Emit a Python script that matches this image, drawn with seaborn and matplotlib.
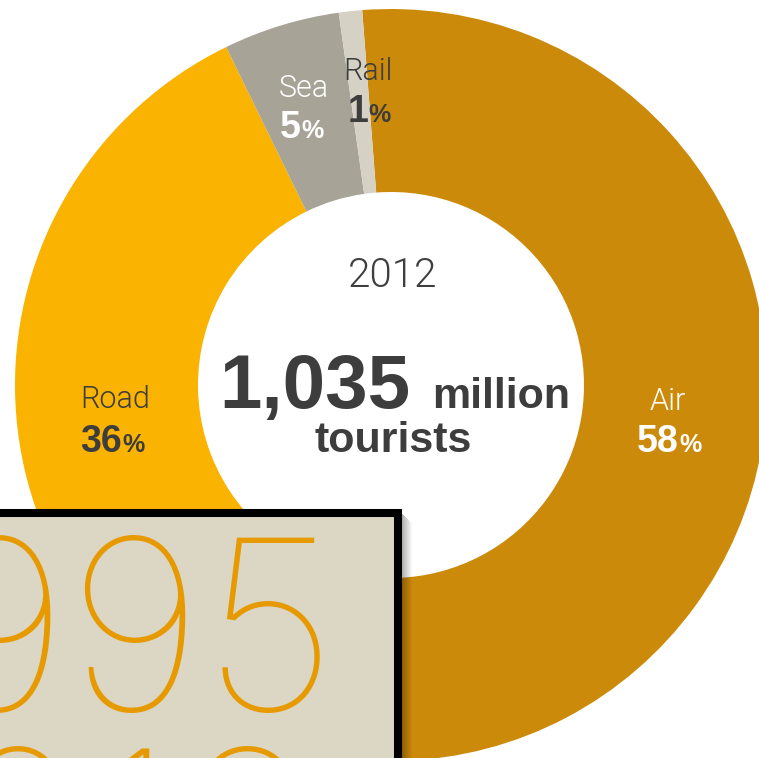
import matplotlib
matplotlib.use("Agg")
import matplotlib.pyplot as plt
from matplotlib import font_manager as fm
from matplotlib.patches import Rectangle
import seaborn as sns

# Share of international tourist arrivals by mode of transport
modes = ["Air", "Road", "Sea", "Rail"]
shares = [58, 36, 5, 1]
mode_colors = ["#CC8A0A", "#F9B300", "#A7A397", "#D5D1C4"]
year = "2012"
total = "1,035"
unit_top = "million"
unit_bottom = "tourists"
year_switch = ["1995", "2012"]

W, H = 759, 758
sns.set_theme(style="white")
plt.rcParams["font.family"] = ["Liberation Sans", "DejaVu Sans"]


def weight_of(entry):
    w = entry.weight
    if isinstance(w, str):
        w = fm.weight_dict.get(w, 400)
    return int(w)


def font_near(families, target):
    """Upright face from the first family that has one, closest to a weight."""
    best = None
    for f in fm.fontManager.ttflist:
        if f.name in families and f.style == "normal" and f.stretch == "normal":
            key = (abs(weight_of(f) - target), families.index(f.name))
            if best is None or key < best[0]:
                best = (key, f.fname)
    if best is None:
        return fm.FontProperties(family="DejaVu Sans")
    return fm.FontProperties(fname=best[1])


thin = font_near(["Roboto", "Lato", "Inter", "Open Sans", "Noto Sans", "DejaVu Sans"], 100)
light = font_near(["Roboto", "Lato", "Open Sans", "Inter", "Liberation Sans"], 300)

fig = plt.figure(figsize=(W / 100, H / 100), dpi=100)
ax = fig.add_axes([0, 0, 1, 1])


def py(y):
    return H - y


# donut ring
cx, cy, R, r_in = 391, py(385), 376, 193
ax.pie(shares, colors=mode_colors, startangle=94.4, counterclock=False,
       radius=R, center=(cx, cy),
       wedgeprops=dict(width=R - r_in, linewidth=0))
ax.set_xlim(0, W)
ax.set_ylim(0, H)
ax.set_aspect("equal")
ax.axis("off")

dark = "#3d3d3d"

# slice labels: name on top, bold share below
label_pos = {
    "Air": (668, 410, 679, 452, "white"),
    "Road": (115.5, 408, 122, 452, dark),
    "Sea": (304, 97, 301, 138, "white"),
    "Rail": (367.5, 80, 368, 122, dark),
}
for mode, share in zip(modes, shares):
    nx, nb, sx, sb, col = label_pos[mode]
    ax.text(nx, py(nb), mode, fontproperties=light, fontsize=22, color=col,
            ha="center", va="baseline")
    ax.text(sx, py(sb), f"{share}", fontsize=27,
            fontweight="bold", color=col, ha="right", va="baseline")
    ax.text(sx, py(sb), "%", fontsize=18,
            fontweight="bold", color=col, ha="left", va="baseline")

# centre text
ax.text(392.5, py(287), year, fontproperties=light, fontsize=29,
        color="#3f3f3f", ha="center", va="baseline")
ax.text(410, py(408), total, fontsize=55, fontweight="bold", color=dark,
        ha="right", va="baseline")
ax.text(432, py(408), unit_top, fontsize=31, fontweight="bold", color=dark,
        ha="left", va="baseline")
ax.text(393.5, py(452), unit_bottom, fontsize=31, fontweight="bold",
        color=dark, ha="center", va="baseline")

# year selector card with soft shadow
for i in range(10):
    ax.add_patch(Rectangle((402 + i, py(800)), 1, 800 - 514 - i,
                           facecolor="black", alpha=0.30 * (1 - i / 10),
                           linewidth=0, zorder=4))
ax.add_patch(Rectangle((-20, py(800)), 418, 800 - 512.5,
                       facecolor="#DCD6C5", edgecolor="black",
                       linewidth=5.8, zorder=5))
ax.text(338, py(711), year_switch[0], fontproperties=thin, fontsize=172,
        color="#E69A00", ha="right", va="baseline", zorder=6)
ax.text(325, py(922), year_switch[1], fontproperties=thin, fontsize=172,
        color="#E69A00", ha="right", va="baseline", zorder=6)

fig.savefig("out.png", dpi=100)
